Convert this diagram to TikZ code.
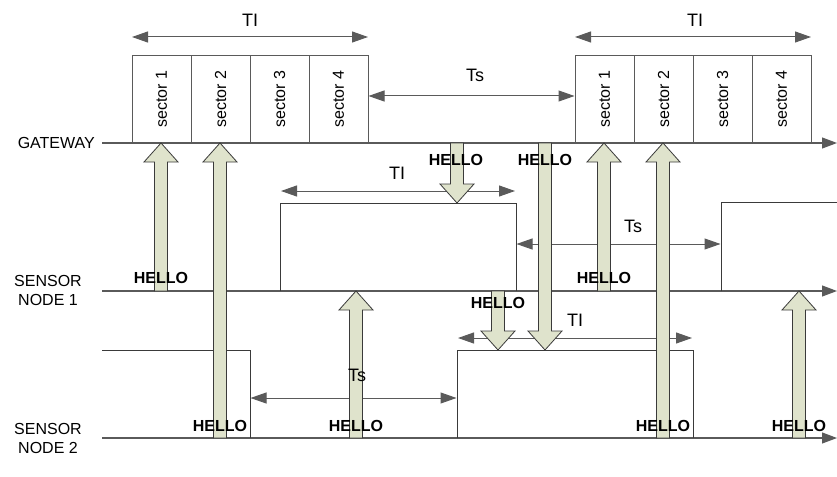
\documentclass[tikz,border=0pt]{standalone}
\usepackage{fontspec}
\setmainfont{Liberation Sans}
\usetikzlibrary{arrows.meta}
\definecolor{hellofill}{HTML}{DFE3CC}
\definecolor{lineg}{HTML}{5A5A5A}
\definecolor{pulseg}{HTML}{3A3A3A}
\newcommand{\blkup}[3]{% x, tip y, bottom y
  \filldraw[blockarr] (#1,#2) -- ++(17,19) -- ++(-10.5,0) -- (#1+6.5,#3) -- (#1-6.5,#3) -- (#1-6.5,#2+19) -- ++(-10.5,0) -- cycle;}
\newcommand{\blkdown}[3]{% x, top y, tip y
  \filldraw[blockarr] (#1,#3) -- ++(17,-19) -- ++(-10.5,0) -- (#1+6.5,#2) -- (#1-6.5,#2) -- (#1-6.5,#3-19) -- ++(-10.5,0) -- cycle;}
\begin{document}
\begin{tikzpicture}[x=1pt,y=-1pt,
  every node/.style={font=\fontsize{16}{19}\selectfont, text=black},
  axis/.style={draw=lineg, line width=1.1pt, -{Triangle[length=15pt,width=11pt]}},
  pulse/.style={draw=pulseg, line width=1pt},
  dim/.style={draw=lineg, line width=1pt, {Triangle[length=16pt,width=11pt]}-{Triangle[length=16pt,width=11pt]}},
  dimlbl/.style={font=\fontsize{18}{20}\selectfont, inner sep=0pt},
  sectorbox/.style={draw=lineg, line width=0.9pt, rotate=90, minimum width=88pt, minimum height=59pt, inner sep=0pt, anchor=center},
  blockarr/.style={fill=hellofill, draw=pulseg, line width=0.8pt, line join=miter},
  hello/.style={font=\fontsize{16}{19}\selectfont\bfseries, inner sep=0pt},
  rowlbl/.style={align=center, inner sep=0pt}]
\useasboundingbox (0,0) rectangle (837,476);

% row labels
\node[rowlbl, anchor=east] (gwl) at (95,143) {GATEWAY};
\node[rowlbl] (n1l) at (48,290) {SENSOR\\NODE 1};
\node[rowlbl] (n2l) at (48,438) {SENSOR\\NODE 2};

% timelines
\coordinate (g0) at (102,143); \coordinate (g1) at (837,143);
\coordinate (a0) at (102,291); \coordinate (a1) at (837,291);
\coordinate (b0) at (102,438); \coordinate (b1) at (837,438);
\draw[axis] (g0) -- (g1);
\draw[axis] (a0) -- (a1);
\draw[axis] (b0) -- (b1);

% sensor node 1 pulses
\coordinate (p1a) at (280,291); \coordinate (p1b) at (280,203);
\coordinate (p1c) at (516,203); \coordinate (p1d) at (516,291);
\draw[pulse] (p1a) -- (p1b) -- (p1c) -- (p1d);
\coordinate (p2a) at (721,291); \coordinate (p2b) at (721,202);
\coordinate (p2c) at (837,202);
\draw[pulse] (p2a) -- (p2b) -- (p2c);

% sensor node 2 pulses
\coordinate (q0) at (102,350); \coordinate (q1) at (250,350);
\coordinate (q2) at (250,438);
\draw[pulse] (q0) -- (q1) -- (q2);
\coordinate (q3) at (457,438); \coordinate (q4) at (457,350);
\coordinate (q5) at (693,350); \coordinate (q6) at (693,438);
\draw[pulse] (q3) -- (q4) -- (q5) -- (q6);

% gateway sectors
\node[sectorbox] (s11) at (161.5,99) {sector 1};
\node[sectorbox] (s12) at (220.5,99) {sector 2};
\node[sectorbox] (s13) at (279.5,99) {sector 3};
\node[sectorbox] (s14) at (338.5,99) {sector 4};
\node[sectorbox] (s21) at (604.5,99) {sector 1};
\node[sectorbox] (s22) at (663.5,99) {sector 2};
\node[sectorbox] (s23) at (722.5,99) {sector 3};
\node[sectorbox] (s24) at (781.5,99) {sector 4};

% dimension arrows
\coordinate (t1a) at (132,37); \coordinate (t1b) at (368,37);
\draw[dim] (t1a) -- (t1b);
\coordinate (t2a) at (575,37); \coordinate (t2b) at (811,37);
\draw[dim] (t2a) -- (t2b);
\coordinate (s1a) at (368.5,96); \coordinate (s1b) at (574.5,96);
\draw[dim] (s1a) -- (s1b);
\coordinate (t3a) at (281,191); \coordinate (t3b) at (515,191);
\draw[dim] (t3a) -- (t3b);
\coordinate (s2a) at (516.5,244); \coordinate (s2b) at (720.5,244);
\draw[dim] (s2a) -- (s2b);
\coordinate (s3a) at (250.5,398); \coordinate (s3b) at (456.5,398);
\draw[dim] (s3a) -- (s3b);
\coordinate (t4a) at (458,338); \coordinate (t4b) at (692,338);
\draw[dim] (t4a) -- (t4b);

% HELLO block arrows
\blkup{161}{143}{291}
\blkup{220}{143}{438}
\blkup{604}{143}{291}
\blkup{663}{143}{438}
\blkup{356}{291}{438}
\blkup{799}{291}{438}
\blkdown{457}{143}{203}
\blkdown{545}{143}{350}
\blkdown{498}{291}{350}

% dimension labels
\node[dimlbl] (t1l) at (250,20) {TI};
\node[dimlbl] (t2l) at (695,20) {TI};
\node[dimlbl] (s1l) at (475,75) {Ts};
\node[dimlbl] (t3l) at (397,173) {TI};
\node[dimlbl] (s2l) at (633,226) {Ts};
\node[dimlbl] (s3l) at (357,375) {Ts};
\node[dimlbl] (t4l) at (575,320) {TI};

% HELLO labels
\node[hello] (h1) at (161,278) {HELLO};
\node[hello] (h2) at (220,426) {HELLO};
\node[hello] (h3) at (604,278) {HELLO};
\node[hello] (h4) at (663,426) {HELLO};
\node[hello] (h5) at (356,426) {HELLO};
\node[hello] (h6) at (799,426) {HELLO};
\node[hello] (h7) at (456,160) {HELLO};
\node[hello] (h8) at (545,160) {HELLO};
\node[hello] (h9) at (498,303) {HELLO};
\end{tikzpicture}
\end{document}
